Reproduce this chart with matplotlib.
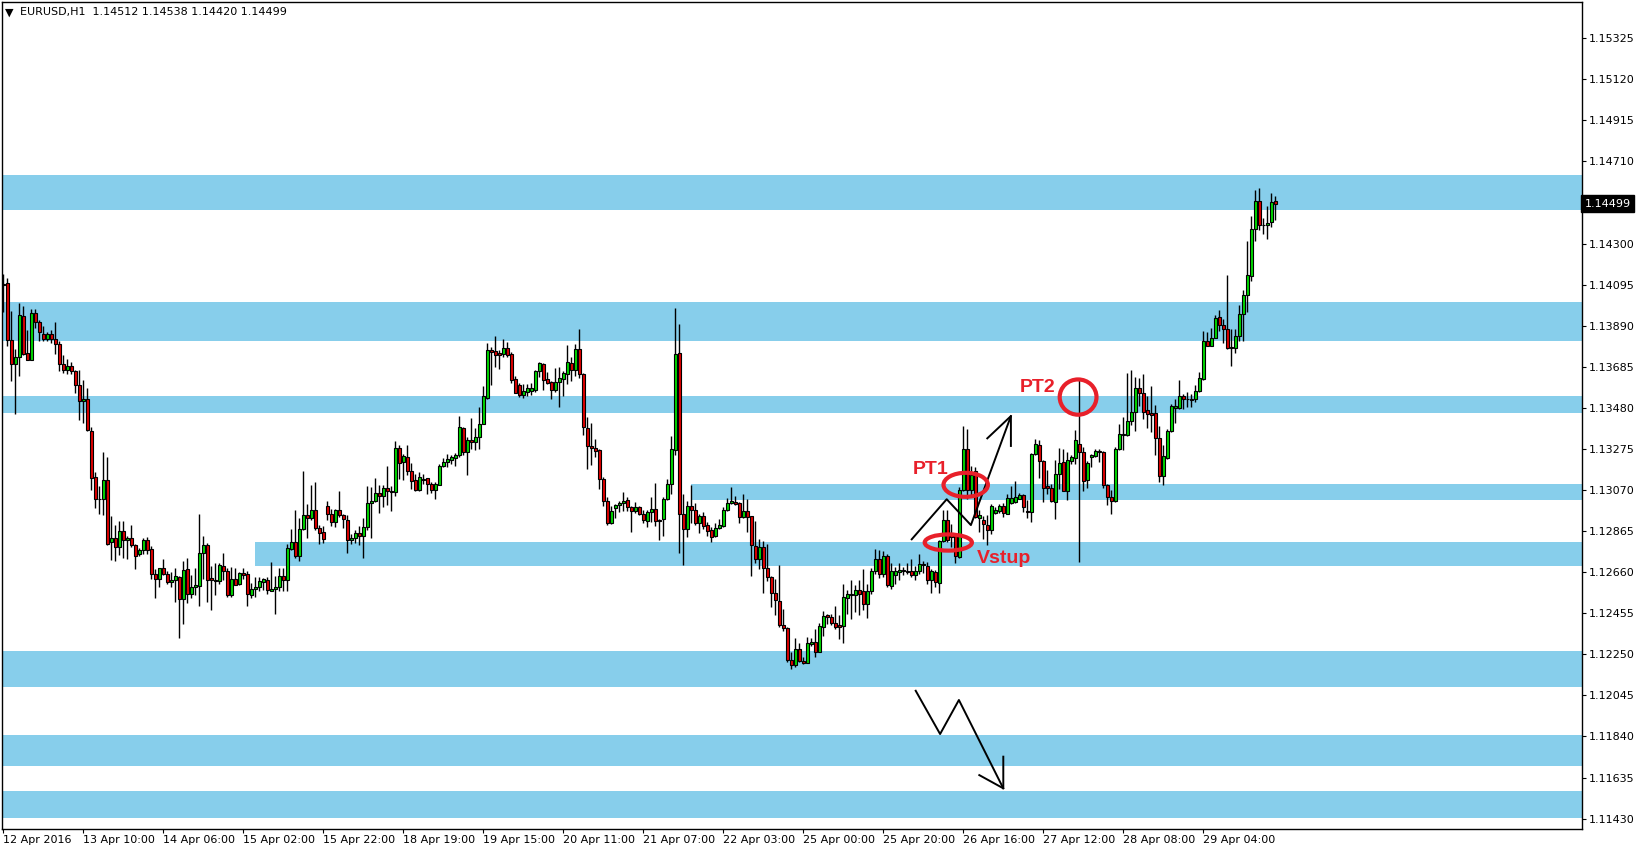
"""EURUSD H1 chart with support / resistance zones."""

import numpy as np
import matplotlib
matplotlib.use('Agg')
import matplotlib.pyplot as plt
from matplotlib.patches import Ellipse
from matplotlib.transforms import blended_transform_factory

# OHLC, one H1 bar each, starting 12 Apr 2016 14:00
opens = [
    1.14091, 1.14101, 1.13821, 1.13701, 1.13736, 1.13941, 1.13753, 1.13721, 1.13956, 1.13911,
    1.13851, 1.13825, 1.13851, 1.13825, 1.13801, 1.13701, 1.13670, 1.13691, 1.13666, 1.13596,
    1.13516, 1.13526, 1.13366, 1.13136, 1.13026, 1.13025, 1.13121, 1.12810, 1.12831, 1.12785,
    1.12866, 1.12821, 1.12831, 1.12796, 1.12751, 1.12773, 1.12823, 1.12778, 1.12652, 1.12628,
    1.12683, 1.12653, 1.12612, 1.12623, 1.12638, 1.12527, 1.12678, 1.12552, 1.12588, 1.12592,
    1.12758, 1.12798, 1.12630, 1.12617, 1.12618, 1.12693, 1.12668, 1.12548, 1.12628, 1.12602,
    1.12658, 1.12653, 1.12548, 1.12578, 1.12588, 1.12613, 1.12623, 1.12568, 1.12578, 1.12588,
    1.12643, 1.12622, 1.12776, 1.12812, 1.12741, 1.12874, 1.12947, 1.12929, 1.12972, 1.12882,
    1.12862, 1.12992, 1.12952, 1.12911, 1.12972, 1.12947, 1.12922, 1.12822, 1.12832, 1.12857,
    1.12842, 1.12887, 1.13007, 1.13014, 1.13057, 1.13042, 1.13082, 1.13067, 1.13062, 1.13282,
    1.13211, 1.13237, 1.13167, 1.13122, 1.13069, 1.13122, 1.13129, 1.13099, 1.13072, 1.13097,
    1.13192, 1.13212, 1.13222, 1.13231, 1.13246, 1.13382, 1.13261, 1.13322, 1.13311, 1.13337,
    1.13402, 1.13531, 1.13767, 1.13762, 1.13752, 1.13751, 1.13777, 1.13747, 1.13622, 1.13592,
    1.13546, 1.13561, 1.13566, 1.13571, 1.13662, 1.13697, 1.13622, 1.13607, 1.13571, 1.13607,
    1.13626, 1.13651, 1.13706, 1.13671, 1.13776, 1.13651, 1.13381, 1.13291, 1.13278, 1.13270,
    1.13126, 1.13016, 1.12903, 1.12981, 1.12993, 1.13005, 1.13021, 1.12985, 1.12966, 1.12983,
    1.12951, 1.12916, 1.12960, 1.12976, 1.12921, 1.12926, 1.13026, 1.13101, 1.13271, 1.13756,
    1.12951, 1.12876, 1.12991, 1.12968, 1.12906, 1.12938, 1.12893, 1.12868, 1.12842, 1.12878,
    1.12892, 1.12968, 1.13003, 1.13010, 1.13005, 1.12937, 1.12963, 1.12938, 1.12793, 1.12727,
    1.12788, 1.12683, 1.12637, 1.12558, 1.12518, 1.12397, 1.12383, 1.12223, 1.12198, 1.12278,
    1.12218, 1.12208, 1.12303, 1.12313, 1.12263, 1.12388, 1.12447, 1.12437, 1.12408, 1.12397,
    1.12392, 1.12532, 1.12544, 1.12544, 1.12569, 1.12567, 1.12499, 1.12567, 1.12666, 1.12724,
    1.12652, 1.12739, 1.12589, 1.12647, 1.12659, 1.12672, 1.12667, 1.12664, 1.12646, 1.12666,
    1.12694, 1.12692, 1.12619, 1.12659, 1.12606, 1.12816, 1.12922, 1.12853, 1.12840, 1.12736,
    1.13069, 1.13277, 1.13069, 1.13166, 1.12932, 1.12922, 1.12897, 1.12872, 1.12957, 1.12966,
    1.12989, 1.12952, 1.13006, 1.13011, 1.13027, 1.13044, 1.12966, 1.12961, 1.13252, 1.13297,
    1.13214, 1.13089, 1.13079, 1.13011, 1.13151, 1.13209, 1.13067, 1.13214, 1.13232, 1.13301,
    1.13261, 1.13121, 1.13236, 1.13239, 1.13264, 1.13259, 1.13097, 1.13034, 1.13014, 1.13277,
    1.13347, 1.13345, 1.13415, 1.13460, 1.13580, 1.13555, 1.13467, 1.13452, 1.13452, 1.13330,
    1.13141, 1.13232, 1.13367, 1.13480, 1.13480, 1.13540, 1.13522, 1.13522, 1.13522, 1.13566,
    1.13624, 1.13816, 1.13789, 1.13831, 1.13936, 1.13896, 1.13872, 1.13783, 1.13778, 1.13837,
    1.13951, 1.14041, 1.14136, 1.14375, 1.14515, 1.14395, 1.14395, 1.14410, 1.14512,
]
highs = [
    1.14148, 1.14126, 1.13963, 1.13773, 1.14003, 1.13988, 1.13868, 1.13976, 1.13973, 1.13921,
    1.13891, 1.13860, 1.13871, 1.13908, 1.13813, 1.13746, 1.13723, 1.13708, 1.13668, 1.13668,
    1.13618, 1.13578, 1.13386, 1.13158, 1.13088, 1.13258, 1.13236, 1.12938, 1.12893, 1.12916,
    1.12916, 1.12841, 1.12896, 1.12803, 1.12783, 1.12831, 1.12838, 1.12790, 1.12675, 1.12683,
    1.12728, 1.12668, 1.12662, 1.12683, 1.12640, 1.12715, 1.12733, 1.12645, 1.12683, 1.12950,
    1.12840, 1.12805, 1.12693, 1.12705, 1.12705, 1.12755, 1.12683, 1.12688, 1.12683, 1.12662,
    1.12683, 1.12668, 1.12608, 1.12635, 1.12637, 1.12630, 1.12638, 1.12710, 1.12643, 1.12683,
    1.12683, 1.12799, 1.12874, 1.12969, 1.12929, 1.13164, 1.12999, 1.13094, 1.13109, 1.12894,
    1.12892, 1.13014, 1.12976, 1.12977, 1.13064, 1.12952, 1.12947, 1.12852, 1.12872, 1.12892,
    1.12932, 1.13092, 1.13084, 1.13129, 1.13094, 1.13094, 1.13189, 1.13092, 1.13317, 1.13294,
    1.13251, 1.13294, 1.13207, 1.13152, 1.13161, 1.13149, 1.13132, 1.13111, 1.13111, 1.13202,
    1.13231, 1.13252, 1.13244, 1.13256, 1.13442, 1.13387, 1.13336, 1.13429, 1.13382, 1.13482,
    1.13591, 1.13802, 1.13782, 1.13841, 1.13767, 1.13824, 1.13807, 1.13761, 1.13637, 1.13602,
    1.13597, 1.13597, 1.13602, 1.13667, 1.13711, 1.13702, 1.13661, 1.13614, 1.13677, 1.13682,
    1.13662, 1.13793, 1.13733, 1.13798, 1.13873, 1.13656, 1.13436, 1.13406, 1.13326, 1.13275,
    1.13135, 1.13035, 1.12988, 1.12998, 1.13016, 1.13060, 1.13036, 1.12991, 1.13011, 1.12990,
    1.12968, 1.12968, 1.13035, 1.13103, 1.12926, 1.13036, 1.13123, 1.13340, 1.13978, 1.13898,
    1.13051, 1.13016, 1.13096, 1.13006, 1.12951, 1.12960, 1.12908, 1.12883, 1.12903, 1.12923,
    1.12983, 1.13028, 1.13085, 1.13038, 1.13010, 1.13048, 1.13023, 1.12942, 1.12915, 1.12828,
    1.12818, 1.12803, 1.12643, 1.12628, 1.12698, 1.12478, 1.12388, 1.12263, 1.12333, 1.12307,
    1.12238, 1.12338, 1.12333, 1.12375, 1.12408, 1.12468, 1.12453, 1.12453, 1.12490, 1.12447,
    1.12600, 1.12572, 1.12619, 1.12594, 1.12619, 1.12674, 1.12602, 1.12682, 1.12774, 1.12769,
    1.12766, 1.12752, 1.12706, 1.12686, 1.12706, 1.12686, 1.12706, 1.12727, 1.12689, 1.12752,
    1.12717, 1.12709, 1.12674, 1.12669, 1.12822, 1.12969, 1.12972, 1.12900, 1.12854, 1.13086,
    1.13391, 1.13377, 1.13189, 1.13184, 1.12969, 1.12939, 1.12944, 1.13002, 1.12986, 1.13002,
    1.13006, 1.13052, 1.13089, 1.13114, 1.13056, 1.13052, 1.13019, 1.13256, 1.13327, 1.13319,
    1.13219, 1.13169, 1.13102, 1.13219, 1.13282, 1.13276, 1.13261, 1.13247, 1.13369, 1.13619,
    1.13286, 1.13214, 1.13251, 1.13274, 1.13276, 1.13264, 1.13102, 1.13069, 1.13284, 1.13399,
    1.13436, 1.13652, 1.13670, 1.13632, 1.13627, 1.13647, 1.13537, 1.13587, 1.13492, 1.13390,
    1.13294, 1.13377, 1.13497, 1.13522, 1.13617, 1.13547, 1.13557, 1.13547, 1.13592, 1.13657,
    1.13862, 1.13857, 1.13881, 1.13942, 1.13967, 1.13926, 1.14142, 1.13876, 1.13872, 1.13995,
    1.14068, 1.14314, 1.14440, 1.14567, 1.14580, 1.14430, 1.14490, 1.14555, 1.14538,
]
lows = [
    1.13960, 1.13790, 1.13615, 1.13450, 1.13640, 1.13743, 1.13721, 1.13718, 1.13880, 1.13815,
    1.13815, 1.13815, 1.13806, 1.13751, 1.13665, 1.13653, 1.13650, 1.13650, 1.13555, 1.13420,
    1.13405, 1.13365, 1.13070, 1.12980, 1.12950, 1.12945, 1.12798, 1.12720, 1.12715, 1.12748,
    1.12730, 1.12726, 1.12785, 1.12675, 1.12743, 1.12751, 1.12753, 1.12627, 1.12532, 1.12587,
    1.12648, 1.12602, 1.12587, 1.12510, 1.12332, 1.12402, 1.12507, 1.12532, 1.12545, 1.12492,
    1.12627, 1.12512, 1.12472, 1.12545, 1.12602, 1.12620, 1.12537, 1.12537, 1.12595, 1.12595,
    1.12628, 1.12492, 1.12532, 1.12537, 1.12567, 1.12572, 1.12552, 1.12567, 1.12452, 1.12568,
    1.12567, 1.12566, 1.12771, 1.12731, 1.12716, 1.12869, 1.12831, 1.12922, 1.12871, 1.12801,
    1.12807, 1.12921, 1.12891, 1.12886, 1.12936, 1.12881, 1.12756, 1.12801, 1.12807, 1.12796,
    1.12731, 1.12869, 1.12831, 1.13011, 1.12956, 1.12986, 1.12996, 1.12966, 1.13041, 1.13126,
    1.13119, 1.13146, 1.13076, 1.13064, 1.13064, 1.13099, 1.13052, 1.13057, 1.13027, 1.13097,
    1.13184, 1.13186, 1.13202, 1.13191, 1.13236, 1.13246, 1.13146, 1.13276, 1.13269, 1.13276,
    1.13399, 1.13526, 1.13592, 1.13682, 1.13676, 1.13736, 1.13732, 1.13606, 1.13552, 1.13536,
    1.13531, 1.13541, 1.13546, 1.13561, 1.13632, 1.13567, 1.13597, 1.13526, 1.13561, 1.13486,
    1.13541, 1.13601, 1.13616, 1.13641, 1.13631, 1.13346, 1.13175, 1.13195, 1.13235, 1.13076,
    1.12990, 1.12895, 1.12898, 1.12930, 1.12960, 1.12965, 1.12965, 1.12860, 1.12955, 1.12943,
    1.12905, 1.12885, 1.12908, 1.12890, 1.12820, 1.12840, 1.13021, 1.13050, 1.13246, 1.12755,
    1.12695, 1.12835, 1.12905, 1.12893, 1.12856, 1.12875, 1.12843, 1.12812, 1.12837, 1.12873,
    1.12887, 1.12963, 1.12998, 1.12997, 1.12907, 1.12928, 1.12860, 1.12640, 1.12707, 1.12677,
    1.12557, 1.12617, 1.12487, 1.12447, 1.12387, 1.12367, 1.12212, 1.12175, 1.12187, 1.12212,
    1.12202, 1.12205, 1.12293, 1.12235, 1.12260, 1.12342, 1.12402, 1.12397, 1.12377, 1.12327,
    1.12307, 1.12452, 1.12427, 1.12461, 1.12444, 1.12469, 1.12432, 1.12552, 1.12652, 1.12632,
    1.12636, 1.12586, 1.12578, 1.12599, 1.12619, 1.12644, 1.12652, 1.12636, 1.12619, 1.12652,
    1.12656, 1.12602, 1.12557, 1.12586, 1.12556, 1.12811, 1.12812, 1.12787, 1.12704, 1.12733,
    1.13064, 1.13024, 1.13044, 1.12931, 1.12861, 1.12827, 1.12797, 1.12852, 1.12952, 1.12956,
    1.12936, 1.12949, 1.13002, 1.13006, 1.13024, 1.12961, 1.12931, 1.12911, 1.13246, 1.13131,
    1.13011, 1.13052, 1.13011, 1.12927, 1.13077, 1.13064, 1.13019, 1.13202, 1.13202, 1.12711,
    1.13066, 1.13082, 1.13186, 1.13236, 1.13209, 1.13079, 1.12994, 1.12951, 1.13011, 1.13269,
    1.13269, 1.13342, 1.13395, 1.13365, 1.13489, 1.13424, 1.13380, 1.13359, 1.13244, 1.13111,
    1.13096, 1.13226, 1.13360, 1.13405, 1.13475, 1.13475, 1.13482, 1.13482, 1.13507, 1.13557,
    1.13621, 1.13787, 1.13787, 1.13829, 1.13864, 1.13804, 1.13775, 1.13690, 1.13755, 1.13815,
    1.13815, 1.13959, 1.14114, 1.14315, 1.14369, 1.14349, 1.14325, 1.14384, 1.14420,
]
closes = [
    1.14098, 1.13821, 1.13701, 1.13736, 1.13946, 1.13748, 1.13721, 1.13956, 1.13911, 1.13861,
    1.13825, 1.13851, 1.13825, 1.13801, 1.13700, 1.13670, 1.13691, 1.13665, 1.13596, 1.13516,
    1.13526, 1.13368, 1.13130, 1.13025, 1.13023, 1.13121, 1.12803, 1.12831, 1.12785, 1.12866,
    1.12821, 1.12833, 1.12796, 1.12741, 1.12773, 1.12821, 1.12773, 1.12652, 1.12628, 1.12683,
    1.12652, 1.12612, 1.12623, 1.12643, 1.12527, 1.12673, 1.12552, 1.12588, 1.12598, 1.12758,
    1.12798, 1.12623, 1.12622, 1.12623, 1.12698, 1.12667, 1.12548, 1.12628, 1.12598, 1.12658,
    1.12647, 1.12552, 1.12578, 1.12588, 1.12618, 1.12625, 1.12572, 1.12578, 1.12588, 1.12643,
    1.12623, 1.12782, 1.12812, 1.12741, 1.12877, 1.12947, 1.12932, 1.12972, 1.12881, 1.12856,
    1.12827, 1.12952, 1.12911, 1.12972, 1.12946, 1.12926, 1.12822, 1.12832, 1.12857, 1.12842,
    1.12887, 1.13007, 1.13014, 1.13057, 1.13042, 1.13082, 1.13067, 1.13062, 1.13282, 1.13207,
    1.13242, 1.13166, 1.13116, 1.13069, 1.13137, 1.13127, 1.13099, 1.13072, 1.13099, 1.13192,
    1.13212, 1.13227, 1.13234, 1.13247, 1.13387, 1.13261, 1.13322, 1.13311, 1.13337, 1.13402,
    1.13537, 1.13767, 1.13761, 1.13746, 1.13746, 1.13777, 1.13746, 1.13621, 1.13556, 1.13546,
    1.13562, 1.13577, 1.13577, 1.13662, 1.13702, 1.13621, 1.13606, 1.13571, 1.13607, 1.13627,
    1.13652, 1.13711, 1.13671, 1.13776, 1.13651, 1.13385, 1.13291, 1.13280, 1.13265, 1.13126,
    1.13015, 1.12903, 1.12966, 1.12993, 1.13006, 1.13016, 1.12985, 1.12965, 1.12983, 1.12950,
    1.12920, 1.12960, 1.12976, 1.12916, 1.12915, 1.13026, 1.13101, 1.13273, 1.13751, 1.12951,
    1.12876, 1.12991, 1.12968, 1.12906, 1.12941, 1.12890, 1.12863, 1.12838, 1.12878, 1.12893,
    1.12968, 1.13003, 1.13013, 1.13002, 1.12937, 1.12963, 1.12935, 1.12797, 1.12727, 1.12788,
    1.12683, 1.12637, 1.12558, 1.12522, 1.12397, 1.12383, 1.12222, 1.12198, 1.12278, 1.12218,
    1.12208, 1.12308, 1.12313, 1.12263, 1.12390, 1.12443, 1.12437, 1.12407, 1.12385, 1.12388,
    1.12534, 1.12552, 1.12552, 1.12569, 1.12549, 1.12499, 1.12567, 1.12666, 1.12724, 1.12652,
    1.12739, 1.12594, 1.12667, 1.12667, 1.12672, 1.12666, 1.12659, 1.12646, 1.12667, 1.12699,
    1.12702, 1.12619, 1.12664, 1.12609, 1.12816, 1.12922, 1.12819, 1.12837, 1.12741, 1.13069,
    1.13277, 1.13069, 1.13144, 1.12936, 1.12944, 1.12899, 1.12872, 1.12992, 1.12969, 1.12989,
    1.12957, 1.13029, 1.13032, 1.13036, 1.13044, 1.12986, 1.12961, 1.13249, 1.13302, 1.13214,
    1.13082, 1.13081, 1.13016, 1.13152, 1.13207, 1.13067, 1.13219, 1.13237, 1.13319, 1.13261,
    1.13116, 1.13206, 1.13244, 1.13264, 1.13259, 1.13096, 1.13036, 1.13017, 1.13277, 1.13352,
    1.13352, 1.13415, 1.13460, 1.13580, 1.13555, 1.13459, 1.13449, 1.13445, 1.13330, 1.13141,
    1.13242, 1.13367, 1.13487, 1.13487, 1.13540, 1.13522, 1.13524, 1.13520, 1.13566, 1.13627,
    1.13816, 1.13789, 1.13831, 1.13931, 1.13894, 1.13874, 1.13780, 1.13780, 1.13837, 1.13951,
    1.14041, 1.14141, 1.14375, 1.14515, 1.14395, 1.14394, 1.14405, 1.14510, 1.14499,
]

# time axis labels, one every 20 bars
time_labels = ['12 Apr 2016', '13 Apr 10:00', '14 Apr 06:00', '15 Apr 02:00', '15 Apr 22:00',
               '18 Apr 19:00', '19 Apr 15:00', '20 Apr 11:00', '21 Apr 07:00', '22 Apr 03:00',
               '25 Apr 00:00', '25 Apr 20:00', '26 Apr 16:00', '27 Apr 12:00', '28 Apr 08:00',
               '29 Apr 04:00']
price_ticks = [1.15325, 1.15120, 1.14915, 1.14710, 1.14300, 1.14095, 1.13890, 1.13685,
               1.13480, 1.13275, 1.13070, 1.12865, 1.12660, 1.12455, 1.12250, 1.12045,
               1.11840, 1.11635, 1.11430]

# zones: lower price, upper price, first bar
zone_lo = [1.14469, 1.13814, 1.13455, 1.13020, 1.12691, 1.12087, 1.11692, 1.11433]
zone_hi = [1.14643, 1.14009, 1.13539, 1.13100, 1.12811, 1.12266, 1.11847, 1.11568]
zone_start = [None, None, None, 172, 63, None, None, None]

last_price = 1.14499

W, H = 1642, 852
fig = plt.figure(figsize=(W / 100, H / 100), dpi=100)
ax = fig.add_axes([2 / W, 23 / H, 1580 / W, 827 / H])
x_lo, x_hi = -0.325, 394.675
ax.set_xlim(x_lo, x_hi)
ax.set_ylim(1.11378, 1.15506)

zone_color = '#87ceeb'
for lo, hi, start in zip(zone_lo, zone_hi, zone_start):
    x0 = x_lo if start is None else start
    ax.fill_between([x0, x_hi], lo, hi, color=zone_color, lw=0, zorder=1)

# candles
o = np.array(opens)
h = np.array(highs)
l = np.array(lows)
c = np.array(closes)
x = np.arange(len(o))
ax.vlines(x, l, h, color='black', lw=1.0, zorder=2)
body_col = np.where(c >= o, '#00d800', '#e00000')
ax.bar(x, np.maximum(np.abs(c - o), 0.000012), bottom=np.minimum(o, c), width=0.72,
       color=body_col, edgecolor='black', linewidth=0.8, zorder=3)

# annotations
red = '#e8202a'
for cx, cy, ew, eh in [(240.6, 1.13096, 11.1, 0.00120),
                       (236.25, 1.12808, 11.8, 0.00081),
                       (268.7, 1.13534, 9.2, 0.00176)]:
    ax.add_patch(Ellipse((cx, cy), ew, eh, fill=False, ec=red, lw=3, zorder=5))

txt = dict(color=red, fontsize=14, fontweight='bold', family='Liberation Sans',
           va='baseline', ha='left', zorder=6)
ax.text(227.4, 1.13150, 'PT1', **txt)
ax.text(243.35, 1.12707, 'Vstup', **txt)
ax.text(254.0, 1.13559, 'PT2', **txt)

up_x = [227.1, 235.85, 241.9, 251.9]
up_y = [1.12824, 1.13024, 1.12895, 1.13439]
ax.plot(up_x, up_y, color='black', lw=1.4, zorder=4)
ax.plot([246.0, 251.9, 251.9], [1.13328, 1.13439, 1.13290], color='black', lw=1.4, zorder=4)
dn_x = [228.1, 234.2, 238.9, 250.0]
dn_y = [1.12068, 1.11852, 1.12022, 1.11581]
ax.plot(dn_x, dn_y, color='black', lw=1.4, zorder=4)
ax.plot([244.0, 250.0, 250.0], [1.11647, 1.11581, 1.11739], color='black', lw=1.4, zorder=4)

# axes
for sp in ax.spines.values():
    sp.set_color('black')
    sp.set_linewidth(1)
ax.yaxis.tick_right()
ax.set_yticks(price_ticks)
ax.set_yticklabels([f'{p:.5f}' for p in price_ticks])
ax.tick_params(axis='y', length=3, width=0.8, pad=1.8, labelsize=8, colors='black')
ax.set_xticks(np.arange(len(time_labels)) * 20)
ax.set_xticklabels(time_labels)
ax.tick_params(axis='x', length=3, width=0.8, pad=1.5, labelsize=8, colors='black')
for lab in ax.get_xticklabels():
    lab.set_ha('left')

tr = blended_transform_factory(ax.transAxes, ax.transData)
ax.text(1.0015, last_price, f'{last_price:.5f}', transform=tr, color='white', fontsize=8,
        va='center', ha='left',
        bbox=dict(boxstyle='square,pad=0.3', fc='black', ec='black'), zorder=10,
        clip_on=False)

fig.text(5 / W, 1 - 12.5 / H, '\u25bc', fontsize=8, va='center', ha='left')
fig.text(20 / W, 1 - 12.5 / H, 'EURUSD,H1  1.14512 1.14538 1.14420 1.14499',
         fontsize=8, va='center', ha='left')

fig.savefig('out.png', dpi=100, facecolor='white')
